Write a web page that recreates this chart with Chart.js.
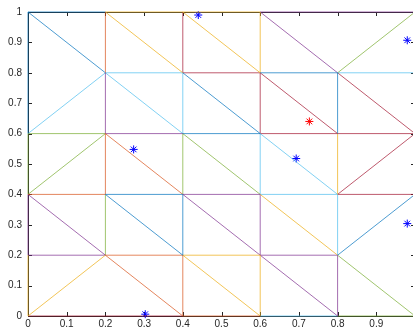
<!DOCTYPE html>
<html>
<head>
<meta charset="utf-8">
<script src="https://cdn.jsdelivr.net/npm/chart.js@4/dist/chart.umd.min.js"></script>
<style>
  html, body { margin: 0; padding: 0; background: #fff; overflow: hidden; }
  #wrap { position: relative; width: 420px; height: 328px; }
</style>
</head>
<body>
<div id="wrap"><canvas id="meshChart"></canvas></div>
<script>
// tick positions
const xTicks = [0, 0.1, 0.2, 0.3, 0.4, 0.5, 0.6, 0.7, 0.8, 0.9, 1];
const yTicks = [0, 0.1, 0.2, 0.3, 0.4, 0.5, 0.6, 0.7, 0.8, 0.9, 1];

// mesh edges as [x1, y1, x2, y2], grouped by the colour they show in
const blueEdges = [
    [0, 0.6, 0, 1], [0, 1, 0.2, 1], [0, 1, 0.2, 0.8], [0.8, 0.6, 0.8, 0.8],
    [0.6, 0.8, 0.8, 0.8], [0.4, 0.6, 0.6, 0.6], [0.4, 0.8, 0.6, 0.6],
    [0.2, 0.4, 0.4, 0.4], [0.4, 0.2, 0.4, 0.4], [0.2, 0.4, 0.4, 0.2], [0.8, 0.2, 1, 0.4]
];
const orangeEdges = [
    [0.2, 0.8, 0.2, 1], [0.2, 0.4, 0.2, 0.6], [0.2, 0.6, 0.4, 0.4], [0, 0.4, 0.2, 0.4],
    [0.2, 0.2, 0.4, 0.2], [0.2, 0.2, 0.4, 0], [0.4, 0, 0.4, 0.2], [0.4, 0, 0.6, 0]
];
const yellowEdges = [
    [0.2, 1, 0.6, 1], [0.2, 1, 0.4, 0.8], [0.4, 1, 0.6, 0.8], [0.6, 0.8, 0.6, 1],
    [0.8, 0.4, 0.8, 0.6], [0.6, 0.4, 0.8, 0.2], [0.4, 0.2, 0.6, 0.2], [0, 0, 0, 0.2],
    [0, 0, 0.2, 0.2], [0.4, 0.2, 0.6, 0], [0.6, 0, 0.6, 0.2]
];
const purpleEdges = [
    [0.6, 1, 1, 1], [0.6, 1, 0.8, 0.8], [0.2, 0.6, 0.2, 0.8], [0.2, 0.6, 0.4, 0.6],
    [0, 0.2, 0, 0.4], [0, 0.4, 0.2, 0.2], [0, 0.2, 0.2, 0.2], [0.4, 0.4, 0.6, 0.4],
    [0.4, 0.4, 0.6, 0.2], [0.6, 0.2, 0.6, 0.4], [0.6, 0.2, 0.8, 0.2], [0.6, 0.2, 0.8, 0],
    [0.8, 0, 0.8, 0.2]
];
const greenEdges = [
    [0.8, 0.8, 1, 1], [0, 0.6, 0.2, 0.6], [0, 0.4, 0, 0.6], [0, 0.4, 0.2, 0.6],
    [0.4, 0.4, 0.4, 0.6], [0.4, 0.6, 0.6, 0.4], [0.2, 0.2, 0.2, 0.4], [0.8, 0.2, 1, 0],
    [0.8, 0, 1, 0]
];
const lightBlueEdges = [
    [0.2, 0.8, 0.4, 0.8], [0.8, 0.8, 1, 0.8], [0, 0.6, 0.2, 0.8], [0.2, 0.8, 0.4, 0.6],
    [0.4, 0.6, 0.4, 0.8], [0.6, 0.4, 0.6, 0.6], [0.6, 0.6, 0.8, 0.4], [0.6, 0.4, 0.8, 0.4],
    [0.8, 0.2, 0.8, 0.4], [0.6, 0, 0.8, 0]
];
const darkRedEdges = [
    [0.4, 0.8, 0.4, 1], [0.4, 0.8, 0.6, 0.8], [0.6, 0.6, 0.6, 0.8], [0.6, 0.8, 0.8, 0.6],
    [0.8, 0.8, 1, 0.6], [0.6, 0.6, 1, 0.6], [0.8, 0.4, 1, 0.6], [0.8, 0.4, 1, 0.4],
    [0, 0, 0.4, 0]
];

// sample points
const bluePointsX = [0.44, 0.273, 0.693, 0.98, 0.98, 0.303];
const bluePointsY = [0.99, 0.548, 0.518, 0.907, 0.304, 0.006];
const redPointsX = [0.727];
const redPointsY = [0.64];

const edgeGroups = [
    [blueEdges, 'rgba(0, 114, 189, 0.7)'],
    [orangeEdges, 'rgba(217, 83, 25, 0.7)'],
    [yellowEdges, 'rgba(237, 177, 32, 0.75)'],
    [purpleEdges, 'rgba(126, 47, 142, 0.7)'],
    [greenEdges, 'rgba(119, 172, 48, 0.7)'],
    [lightBlueEdges, 'rgba(77, 190, 238, 0.7)'],
    [darkRedEdges, 'rgba(162, 20, 47, 0.7)']
];

const datasets = [];
edgeGroups.forEach(function (g) {
    g[0].forEach(function (e) {
        datasets.push({
            type: 'scatter',
            data: [{ x: e[0], y: e[1] }, { x: e[2], y: e[3] }],
            showLine: true,
            borderColor: g[1],
            borderWidth: 1,
            pointRadius: 0,
            clip: false
        });
    });
});
datasets.push({
    type: 'scatter',
    data: bluePointsX.map((v, i) => ({ x: v, y: bluePointsY[i] })),
    pointStyle: 'star',
    pointRadius: 4,
    borderColor: '#0000ff',
    borderWidth: 1,
    clip: false
});
datasets.push({
    type: 'scatter',
    data: redPointsX.map((v, i) => ({ x: v, y: redPointsY[i] })),
    pointStyle: 'star',
    pointRadius: 4,
    borderColor: '#ff0000',
    borderWidth: 1,
    clip: false
});

// box and inward ticks, matlab style
const boxTicks = {
    id: 'boxTicks',
    beforeDatasetsDraw(chart) {
        const { ctx, chartArea: a, scales: { x, y } } = chart;
        ctx.save();
        ctx.strokeStyle = '#262626';
        ctx.lineWidth = 1;
        ctx.beginPath();
        ctx.rect(a.left + 0.5, a.top + 0.5, a.right - a.left, a.bottom - a.top);
        xTicks.forEach(function (v) {
            const p = Math.round(x.getPixelForValue(v)) + 0.5;
            ctx.moveTo(p, a.bottom); ctx.lineTo(p, a.bottom - 4);
            ctx.moveTo(p, a.top); ctx.lineTo(p, a.top + 4);
        });
        yTicks.forEach(function (v) {
            const p = Math.round(y.getPixelForValue(v)) + 0.5;
            ctx.moveTo(a.left, p); ctx.lineTo(a.left + 4, p);
            ctx.moveTo(a.right, p); ctx.lineTo(a.right - 4, p);
        });
        ctx.stroke();
        ctx.restore();
    }
};

const tickFont = { family: 'Helvetica, Arial, "Liberation Sans", sans-serif', size: 10 };
const fmt = v => String(Math.round(v * 10) / 10);

new Chart(document.getElementById('meshChart'), {
    type: 'scatter',
    data: { datasets: datasets },
    options: {
        responsive: true,
        maintainAspectRatio: false,
        animation: false,
        layout: { autoPadding: false, padding: { left: 0, top: 12, right: 5, bottom: 0 } },
        plugins: { legend: { display: false }, tooltip: { enabled: false } },
        scales: {
            x: {
                type: 'linear', min: 0, max: 1,
                afterBuildTicks: s => { s.ticks = xTicks.map(v => ({ value: v })); },
                afterFit: s => { s.height = 12; },
                grid: { display: false, drawTicks: false },
                border: { display: false },
                ticks: { callback: fmt, font: tickFont, color: '#262626', padding: 2, maxRotation: 0, autoSkip: false }
            },
            y: {
                type: 'linear', min: 0, max: 1,
                afterBuildTicks: s => { s.ticks = yTicks.map(v => ({ value: v })); },
                afterFit: s => { s.width = 28; },
                grid: { display: false, drawTicks: false },
                border: { display: false },
                ticks: { callback: fmt, font: tickFont, color: '#262626', padding: 6, autoSkip: false }
            }
        }
    },
    plugins: [boxTicks]
});
</script>
</body>
</html>
